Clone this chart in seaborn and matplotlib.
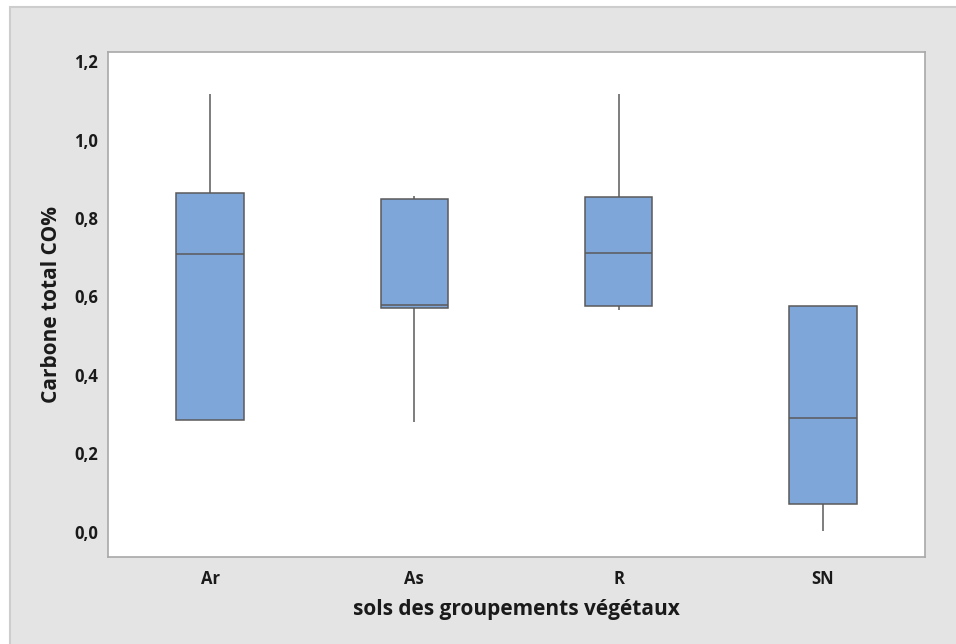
import numpy as np
import pandas as pd
import matplotlib
matplotlib.use("Agg")
import matplotlib.pyplot as plt
import seaborn as sns
from matplotlib.patches import Rectangle
from matplotlib.ticker import FuncFormatter

# raw values per soil group
groups = ["Ar", "As", "R", "SN"]
ar_vals = [0.285, 0.285, 0.708, 0.864, 1.116]
as_vals = [0.280, 0.571, 0.578, 0.848, 0.856]
r_vals = [0.566, 0.576, 0.710, 0.853, 1.116]
sn_vals = [0.003, 0.071, 0.290, 0.576, 0.576]
y_ticks = [0.0, 0.2, 0.4, 0.6, 0.8, 1.0, 1.2]

df = pd.DataFrame({
    "groupe": np.repeat(groups, 5),
    "co": ar_vals + as_vals + r_vals + sn_vals,
})

sns.set_style("white")
plt.rcParams["font.family"] = ["Open Sans", "DejaVu Sans"]

fig = plt.figure(figsize=(9.56, 6.44), dpi=100, facecolor="white")
fig.patches.append(Rectangle((10 / 956, -0.01), 1.0, 1 - 7 / 644 + 0.01,
                             transform=fig.transFigure, facecolor="#E4E4E4",
                             edgecolor="#CDCDCD", linewidth=1.5, zorder=-10))
ax = fig.add_axes([108 / 956, 87 / 644, 817 / 956, 505 / 644])

line_col = "#5A5A5A"
sns.boxplot(data=df, x="groupe", y="co", order=groups, ax=ax, width=0.33,
            color="#7EA6D8", saturation=1, showcaps=False, whis=1.5,
            linewidth=1.1, linecolor=line_col,
            boxprops=dict(edgecolor=line_col),
            medianprops=dict(color=line_col, linewidth=1.1),
            whiskerprops=dict(color=line_col, linewidth=1.1))

ax.set_ylim(-0.064, 1.223)
ax.set_xlim(-0.5, 3.5)
ax.set_yticks(y_ticks)
ax.yaxis.set_major_formatter(FuncFormatter(lambda v, p: f"{v:.1f}".replace(".", ",")))
ax.set_facecolor("white")
for s in ax.spines.values():
    s.set_color("#A8A8A8")
    s.set_linewidth(1.2)
ax.tick_params(axis="both", which="major", direction="out", length=5, width=1,
               color="#A8A8A8", labelsize=12, labelcolor="#1A1A1A")
ax.tick_params(axis="y", pad=2)
ax.tick_params(axis="x", pad=4)
for lbl in ax.get_xticklabels() + ax.get_yticklabels():
    lbl.set_fontweight("bold")

ax.set_xlabel("sols des groupements végétaux", fontsize=15, fontweight="bold",
              color="#1A1A1A", labelpad=8)
ax.set_ylabel("Carbone total CO%", fontsize=15, fontweight="bold",
              color="#1A1A1A", labelpad=9)

fig.savefig("out.png", dpi=100, facecolor=fig.get_facecolor())
